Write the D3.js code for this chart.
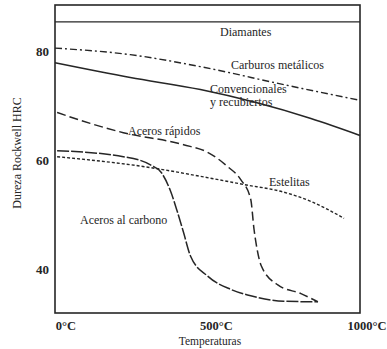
<!DOCTYPE html>
<html>
<head>
<meta charset="utf-8">
<script src="https://cdn.jsdelivr.net/npm/d3@7"></script>
<style>
  body { margin: 0; background: #fff; }
  svg { display: block; }
</style>
</head>
<body>
<svg id="chart" width="387" height="349"></svg>
<script>
// temperature (°C) / hardness (HRC)
const diamantesT = [-23, 990];
const diamantesH = [85.4, 85.4];

const carburosT = [-23, 227, 460, 737, 983];
const carburosH = [80.6, 79.4, 77.2, 73.9, 71.1];

const convencT = [-23, 227, 460, 827, 990];
const convencH = [77.9, 75.2, 73.0, 67.7, 64.6];

const rapidosT = [-16, 94, 204, 404, 484, 550, 594, 627, 638, 648, 662, 717, 794, 850];
const rapidosH = [68.8, 66.8, 65.1, 62.9, 61.5, 58.9, 56.5, 52.9, 47.4, 43.8, 40.7, 37.2, 35.6, 34.1];

const carbonoT = [-16, 204, 294, 330, 360, 384, 404, 427, 484, 560, 627, 737, 850];
const carbonoH = [61.8, 60.7, 59.2, 57.8, 54.5, 50.5, 46.8, 42.5, 38.8, 36.4, 35.2, 34.2, 34.1];

const estelitasT = [-16, 294, 460, 604, 737, 827, 937];
const estelitasH = [60.7, 58.7, 57.1, 55.6, 54.2, 52.5, 49.4];

const xTicks = [0, 500, 1000];
const yTicks = [40, 60, 80];

const svg = d3.select("#chart");
const W = 387, H = 349;
const m = { left: 55, right: 27, top: 5, bottom: 36 };

const x = d3.scaleLinear().domain([-23, 990]).range([m.left, W - m.right]);
const y = d3.scaleLinear().domain([32.05, 88.5]).range([H - m.bottom, m.top]);

const ink = "#262626";
const font = "'Liberation Serif', 'DejaVu Serif', serif";

// frame
svg.append("rect")
    .attr("x", x.range()[0]).attr("y", y.range()[1])
    .attr("width", x.range()[1] - x.range()[0])
    .attr("height", y.range()[0] - y.range()[1])
    .attr("fill", "none").attr("stroke", ink).attr("stroke-width", 1.6);

const line = d3.line().x(d => x(d[0])).y(d => y(d[1])).curve(d3.curveMonotoneX);

const series = [
    { t: diamantesT, h: diamantesH, dash: null, w: 1.4 },
    { t: carburosT, h: carburosH, dash: "7,3,2,3", w: 1.4 },
    { t: convencT, h: convencH, dash: null, w: 1.6 },
    { t: rapidosT, h: rapidosH, dash: "9,4", w: 1.5 },
    { t: carbonoT, h: carbonoH, dash: "12,2", w: 1.5 },
    { t: estelitasT, h: estelitasH, dash: "3,2", w: 1.4 }
];

svg.append("g")
    .attr("fill", "none")
    .attr("stroke", ink)
    .selectAll("path")
    .data(series)
    .join("path")
    .attr("stroke-width", d => d.w)
    .attr("stroke-dasharray", d => d.dash)
    .attr("d", d => line(d3.zip(d.t, d.h)));

// y tick labels
svg.append("g")
    .attr("font-family", font)
    .attr("font-size", 13)
    .attr("font-weight", "bold")
    .attr("fill", ink)
    .selectAll("text")
    .data(yTicks)
    .join("text")
    .attr("x", 49)
    .attr("y", d => y(d))
    .attr("dy", "0.35em")
    .attr("text-anchor", "end")
    .text(d => d);

// x tick labels
svg.append("g")
    .attr("font-family", font)
    .attr("font-size", 12.5)
    .attr("font-weight", "bold")
    .attr("fill", ink)
    .selectAll("text")
    .data(xTicks)
    .join("text")
    .attr("x", d => x(d) + 4)
    .attr("y", 326)
    .attr("dy", "0.35em")
    .attr("text-anchor", "middle")
    .text(d => d + "°C");

// axis titles
svg.append("text")
    .attr("x", 210).attr("y", 341).attr("dy", "0.35em")
    .attr("text-anchor", "middle")
    .attr("font-family", font).attr("font-size", 11.5)
    .attr("fill", ink)
    .text("Temperaturas");

svg.append("text")
    .attr("transform", "translate(17,153) rotate(-90)")
    .attr("dy", "0.35em")
    .attr("text-anchor", "middle")
    .attr("font-family", font).attr("font-size", 12)
    .attr("fill", ink)
    .text("Dureza Rockwell HRC");

// curve labels
const labels = [
    ["Diamantes", 220, 32],
    ["Carburos metálicos", 231, 65],
    ["Convencionales", 210, 89],
    ["y recubiertos", 210, 101.5],
    ["Aceros rápidos", 128, 131],
    ["Estelitas", 269, 182],
    ["Aceros al carbono", 80, 220]
];

svg.append("g")
    .attr("font-family", font)
    .attr("font-size", 12)
    .attr("fill", ink)
    .selectAll("text")
    .data(labels)
    .join("text")
    .attr("x", d => d[1])
    .attr("y", d => d[2])
    .attr("dy", "0.35em")
    .text(d => d[0]);
</script>
</body>
</html>
